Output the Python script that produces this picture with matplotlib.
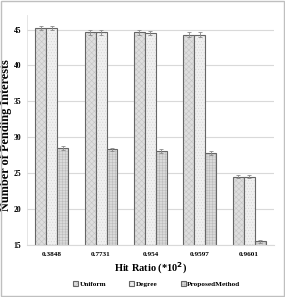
import matplotlib.pyplot as plt
import numpy as np
from matplotlib.patches import Rectangle
from matplotlib.colors import to_rgba

# --- Data ---
hit_ratios = ["0.3848", "0.7731", "0.954", "0.9597", "0.9601"]
uniform = [45.2, 44.6, 44.6, 44.3, 24.5]
degree = [45.2, 44.6, 44.5, 44.3, 24.5]
proposed = [28.5, 28.3, 28.1, 27.8, 15.5]
uniform_err = [0.3, 0.3, 0.3, 0.3, 0.2]
degree_err = [0.3, 0.3, 0.3, 0.3, 0.2]
proposed_err = [0.25, 0.25, 0.25, 0.25, 0.2]
series_names = ["Uniform", "Degree", "ProposedMethod"]

plt.rcParams["font.family"] = ["Liberation Serif", "DejaVu Serif"]
plt.rcParams["hatch.linewidth"] = 0.4

fig = plt.figure(figsize=(2.85, 2.97), dpi=100)
ax = fig.add_axes([0.0947, 0.175, 0.866, 0.774])

x = np.arange(len(hit_ratios))
w = 0.222
styles = [
    dict(color="#dedede", hatch="xxxxxx", hatch_col="#c4c4c4"),
    dict(color="#f0f0f0", hatch="......", hatch_col="#d6d6d6"),
    dict(color="#dadada", hatch="++++++", hatch_col="#bcbcbc"),
]
data = [uniform, degree, proposed]
errs = [uniform_err, degree_err, proposed_err]

handles = []
for i, (vals, err, st) in enumerate(zip(data, errs, styles)):
    bars = ax.bar(
        x + (i - 1) * w,
        np.array(vals) - 15,
        w,
        bottom=15,
        color=st["color"],
        edgecolor="#666666",
        linewidth=0.8,
        label=series_names[i],
        zorder=2,
    )
    for b in bars:
        b.set_hatch(st["hatch"])
        b._hatch_color = to_rgba(st["hatch_col"])
    ax.errorbar(
        x + (i - 1) * w, vals, yerr=err, fmt="none", ecolor="#8a8a8a",
        elinewidth=0.6, capsize=1.5, capthick=0.6, zorder=3,
    )
    handles.append(bars)

ax.set_ylim(15, 47)
ax.set_xlim(-0.5, len(hit_ratios) - 0.5)
ax.set_yticks([15, 20, 25, 30, 35, 40, 45])
ax.set_xticks(x)
ax.set_xticklabels(hit_ratios)
ax.yaxis.grid(True, color="#d9d9d9", linewidth=0.8, zorder=0)
ax.set_axisbelow(True)
ax.tick_params(axis="y", length=0, labelsize=5.5, pad=4)
ax.tick_params(axis="x", length=0, labelsize=5.2, pad=5)
for lab in ax.get_xticklabels() + ax.get_yticklabels():
    lab.set_fontweight("bold")

for s in ["top", "right"]:
    ax.spines[s].set_visible(False)
ax.spines["left"].set_color("#e0e0e0")
ax.spines["left"].set_linewidth(0.6)
ax.spines["bottom"].set_color("#d9d9d9")
ax.spines["bottom"].set_linewidth(0.8)

ax.set_ylabel("Number of Pending Interests", fontsize=8.8, fontweight="bold")
ax.yaxis.set_label_coords(-0.06, 0.48)
ax.set_xlabel("Hit Ratio (*10$^\\mathbf{2}$)", fontsize=7.5, fontweight="bold", labelpad=3)

fig.legend(
    handles=handles, labels=series_names, loc="center",
    bbox_to_anchor=(0.55, 1 - 284 / 297), ncol=3, frameon=False,
    prop={"size": 5.2, "weight": "bold"}, handlelength=0.7, handleheight=0.7,
    handletextpad=0.2, columnspacing=3.2,
)

fig.patches.append(Rectangle((0.004, 0.004), 0.992, 0.992, transform=fig.transFigure,
                             fill=False, edgecolor="#bfbfbf", linewidth=1.0))

fig.savefig("out.png", dpi=100)
